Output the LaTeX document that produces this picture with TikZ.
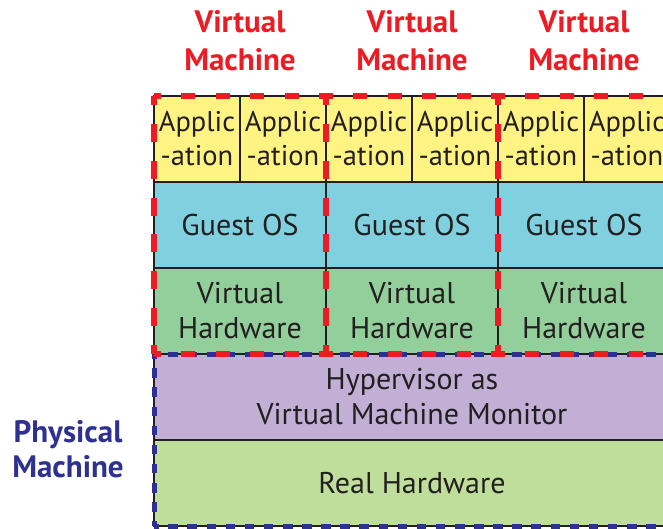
\documentclass[tikz,border=0pt]{standalone}
\usepackage{fontspec}
\setmainfont{PT Sans}
\definecolor{ink}{HTML}{231F20}
\definecolor{appfill}{HTML}{FFF384}
\definecolor{osfill}{HTML}{80D0E0}
\definecolor{vhwfill}{HTML}{93CF9B}
\definecolor{hypfill}{HTML}{C2AFD5}
\definecolor{realfill}{HTML}{C0DE9B}
\definecolor{vmred}{HTML}{ED1C24}
\definecolor{pmblue}{HTML}{2E3192}
\begin{document}
\begin{tikzpicture}[x=1pt,y=-1pt,
  cell/.style={draw=ink, line width=2pt, text=ink, inner sep=0pt, outer sep=0pt,
    align=center, anchor=north west, font=\fontsize{30}{35}\selectfont},
  appbox/.style={cell, fill=appfill, minimum width=86pt, minimum height=86pt,
    font=\fontsize{28.5}{34}\selectfont},
  osbox/.style={cell, fill=osfill, minimum width=172pt, minimum height=86pt},
  vhwbox/.style={cell, fill=vhwfill, minimum width=172pt, minimum height=86pt},
  hypbox/.style={cell, fill=hypfill, minimum width=516pt, minimum height=86pt},
  realbox/.style={cell, fill=realfill, minimum width=516pt, minimum height=86pt},
  % dashed frames: each side drawn on its own so a dash sits on every corner
  vmframe/.style={draw=vmred, line width=6pt},
  vmhside/.style={vmframe, dash pattern=on 14pt off 20.4pt, dash phase=7pt},
  vmvside/.style={vmframe, dash pattern=on 18pt off 18.86pt, dash phase=9pt},
  pmframe/.style={draw=pmblue, line width=5pt, dash pattern=on 9.5pt off 9.61pt,
    dash phase=4.75pt},
  vmtitle/.style={text=vmred, align=center, font=\fontsize{31}{38}\selectfont\bfseries},
  pmtitle/.style={text=pmblue, align=center, font=\fontsize{31}{35}\selectfont\bfseries},
]
\useasboundingbox (0,0) rectangle (663,529);
\clip (0,0) rectangle (663,529);

% three virtual machines: applications, guest OS, virtual hardware
\foreach \i in {1,2,3} {
  \pgfmathsetmacro{\xl}{154+172*(\i-1)}
  \node[appbox] (app\i a) at (\xl,96) {Applic\\-ation};
  \node[appbox] (app\i b) at (\xl+86,96) {Applic\\-ation};
  \node[osbox] (os\i) at (\xl,182) {Guest OS};
  \node[vhwbox] (vhw\i) at (\xl,268) {Virtual\\Hardware};
  \node[vmtitle] (title\i) at (\xl+86,41) {Virtual\\Machine};
}

% shared layers of the physical machine
\node[hypbox] (hyp) at (154,354) {Hypervisor as\\Virtual Machine Monitor};
\node[realbox] (real) at (154,440) {Real Hardware};

% physical machine boundary
\draw[pmframe] (hyp.north west) -- (hyp.north east);
\draw[pmframe] (real.south west) -- (real.south east);
\draw[pmframe] (hyp.north west) -- (real.south west);
\draw[pmframe] (hyp.north east) -- (real.south east);
\node[pmtitle] (pmtitle) at (68,449) {Physical\\Machine};

% virtual machine boundaries
\foreach \i in {1,2,3} {
  \draw[vmhside] (app\i a.north west) -- (app\i b.north east);
  \draw[vmhside] (vhw\i.south west) -- (vhw\i.south east);
  \draw[vmvside] (app\i a.north west) -- (vhw\i.south west);
  \draw[vmvside] (app\i b.north east) -- (vhw\i.south east);
}
\end{tikzpicture}
\end{document}
